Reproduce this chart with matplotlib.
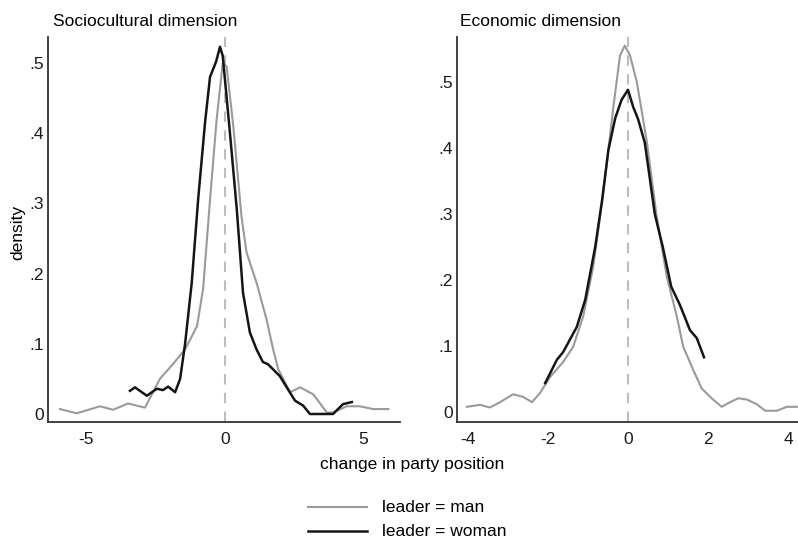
import matplotlib
matplotlib.use("Agg")
import matplotlib.pyplot as plt
from matplotlib.lines import Line2D

plt.rcParams['font.family'] = ['Liberation Sans', 'DejaVu Sans']

# Sociocultural dimension
soc_man_x = [-5.96, -5.35, -4.51, -4.04, -3.5, -2.89, -2.35, -1.88, -1.44, -1.01, -0.79, -0.54, -0.3,
             -0.08, 0.06, 0.3, 0.6, 0.78, 1.14, 1.5, 1.74, 1.92, 2.35, 2.71, 3.19, 3.68, 3.9, 4.4, 4.87,
             5.35, 5.9]
soc_man_y = [0.007, 0.001, 0.011, 0.006, 0.015, 0.009, 0.05, 0.071, 0.092, 0.125, 0.178, 0.305, 0.42,
             0.5, 0.495, 0.41, 0.28, 0.23, 0.187, 0.135, 0.092, 0.064, 0.031, 0.038, 0.028, 0.002, 0.002,
             0.011, 0.011, 0.007, 0.007]
soc_woman_x = [-3.43, -3.25, -2.82, -2.46, -2.24, -2.05, -1.8, -1.62, -1.44, -1.2, -0.97, -0.72, -0.54,
               -0.32, -0.18, -0.08, 0.18, 0.43, 0.65, 0.9, 1.14, 1.37, 1.55, 1.98, 2.23, 2.53, 2.82, 3.07,
               3.9, 4.26, 4.58]
soc_woman_y = [0.033, 0.038, 0.026, 0.036, 0.034, 0.039, 0.031, 0.05, 0.1, 0.187, 0.305, 0.415, 0.48,
               0.502, 0.523, 0.51, 0.4, 0.29, 0.173, 0.116, 0.092, 0.074, 0.071, 0.054, 0.038, 0.019,
               0.012, 0.0, 0.0, 0.014, 0.017]

# Economic dimension
eco_man_x = [-4.03, -3.7, -3.45, -3.2, -2.87, -2.62, -2.4, -2.2, -1.95, -1.62, -1.37, -1.12, -0.87, -0.62,
             -0.37, -0.2, -0.08, 0.05, 0.22, 0.47, 0.72, 0.97, 1.22, 1.38, 1.63, 1.84, 2.09, 2.34, 2.55,
             2.76, 2.97, 3.22, 3.43, 3.72, 3.97, 4.22]
eco_man_y = [0.008, 0.011, 0.007, 0.015, 0.027, 0.023, 0.015, 0.029, 0.053, 0.076, 0.099, 0.145, 0.22,
             0.33, 0.46, 0.54, 0.555, 0.54, 0.5, 0.41, 0.295, 0.205, 0.145, 0.099, 0.064, 0.036, 0.021,
             0.008, 0.015, 0.021, 0.019, 0.012, 0.002, 0.002, 0.008, 0.008]
eco_woman_x = [-2.07, -1.78, -1.62, -1.28, -1.07, -0.82, -0.65, -0.49, -0.32, -0.16, 0.0, 0.13, 0.25, 0.42,
               0.67, 0.87, 1.08, 1.3, 1.55, 1.72, 1.9]
eco_woman_y = [0.044, 0.079, 0.091, 0.129, 0.17, 0.25, 0.32, 0.397, 0.445, 0.473, 0.488, 0.462, 0.444,
               0.408, 0.3, 0.25, 0.19, 0.162, 0.124, 0.112, 0.083]

titles = ["Sociocultural dimension", "Economic dimension"]
legend_labels = ["leader = man", "leader = woman"]
ytick_vals = [0, 0.1, 0.2, 0.3, 0.4, 0.5]
ytick_labels = ["0", ".1", ".2", ".3", ".4", ".5"]
soc_xticks = [-5, 0, 5]
eco_xticks = [-4, -2, 0, 2, 4]

man_color = "#9a9a9a"
woman_color = "#151515"
fs = 12.5

fig = plt.figure(figsize=(7.98, 5.4), dpi=100)
ax1 = fig.add_axes([48/798, 118/540, 352/798, 385/540])
ax2 = fig.add_axes([457/798, 118/540, 341/798, 385/540])

panels = [
    (ax1, soc_man_x, soc_man_y, soc_woman_x, soc_woman_y, soc_xticks, (-6.39, 6.32), (-0.0114, 0.537), 0.014),
    (ax2, eco_man_x, eco_man_y, eco_woman_x, eco_woman_y, eco_xticks, (-4.275, 4.25), (-0.015, 0.568), 0.009),
]
for i, (ax, mx, my, wx, wy, xt, xl, yl, tx) in enumerate(panels):
    ax.axvline(0, color="#bdbdbd", lw=1.5, ls=(0, (5, 4)), zorder=1)
    ax.plot(mx, my, color=man_color, lw=1.5, zorder=2)
    ax.plot(wx, wy, color=woman_color, lw=1.8, zorder=3)
    ax.set_xlim(*xl)
    ax.set_ylim(*yl)
    ax.set_xticks(xt)
    ax.set_xticklabels([str(v) for v in xt])
    ax.set_yticks(ytick_vals)
    ax.set_yticklabels(ytick_labels)
    ax.tick_params(length=0, labelsize=fs, colors="#1a1a1a")
    ax.tick_params(axis='x', pad=7)
    ax.tick_params(axis='y', pad=3)
    for s in ["top", "right"]:
        ax.spines[s].set_visible(False)
    for s in ["left", "bottom"]:
        ax.spines[s].set_color("#333333")
        ax.spines[s].set_linewidth(1.3)
    ax.set_title(titles[i], loc="left", fontsize=fs, pad=8, x=tx)

fig.text(18/798, 1 - 232/540, "density", rotation=90, ha="center", va="center", fontsize=fs)
fig.text(412/798, 1 - 465/540, "change in party position", ha="center", va="center", fontsize=fs)

for j, (lab, col, lw) in enumerate([(legend_labels[0], man_color, 1.5), (legend_labels[1], woman_color, 1.8)]):
    yy = 1 - (507 + 24*j)/540
    fig.add_artist(Line2D([308/798, 367/798], [yy, yy], color=col, lw=lw))
    fig.text(382/798, yy, lab, ha="left", va="center", fontsize=fs)

fig.savefig("out.png", dpi=100)
